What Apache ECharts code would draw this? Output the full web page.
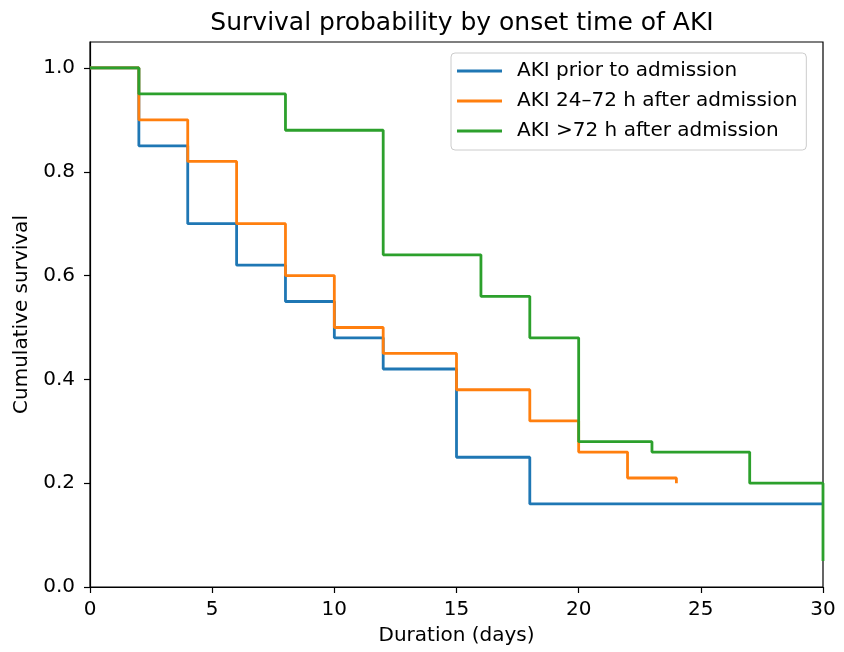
<!DOCTYPE html>
<html>
<head>
<meta charset="utf-8">
<script src="https://cdn.jsdelivr.net/npm/echarts@6/dist/echarts.min.js"></script>
<style>
html,body{margin:0;padding:0;background:#fff;}
#chart{width:844px;height:652px;}
</style>
</head>
<body>
<div id="chart"></div>
<script>
const titleText = 'Survival probability by onset time of AKI';
const seriesNames = ['AKI prior to admission', 'AKI 24\u201372 h after admission', 'AKI >72 h after admission'];
const seriesColors = ['#1f77b4', '#ff7f0e', '#2ca02c'];

// Kaplan-Meier step points: [day, survival]
const priorTimes = [0, 2, 4, 6, 8, 10, 12, 15, 18, 30];
const priorSurv  = [1.0, 0.85, 0.70, 0.62, 0.55, 0.48, 0.42, 0.25, 0.16, 0.16];

const midTimes = [0, 2, 4, 6, 8, 10, 12, 15, 18, 20, 22, 24];
const midSurv  = [1.0, 0.90, 0.82, 0.70, 0.60, 0.50, 0.45, 0.38, 0.32, 0.26, 0.21, 0.20];

const lateTimes = [0, 2, 8, 12, 16, 18, 20, 23, 27, 30, 30];
const lateSurv  = [1.0, 0.95, 0.88, 0.64, 0.56, 0.48, 0.28, 0.26, 0.20, 0.20, 0.05];

const xTicks = [0, 5, 10, 15, 20, 25, 30];
const yTicks = [0.0, 0.2, 0.4, 0.6, 0.8, 1.0];

function pairs(t, s) { return t.map((v, i) => [v, s[i]]); }
const allData = [pairs(priorTimes, priorSurv), pairs(midTimes, midSurv), pairs(lateTimes, lateSurv)];

const FONT = 'DejaVu Sans';
const FS = 20;
const chart = echarts.init(document.getElementById('chart'), null, {renderer: 'canvas'});
chart.setOption({
  animation: false,
  backgroundColor: '#ffffff',
  title: {
    text: titleText,
    left: 457, textAlign: 'center', top: 6,
    textStyle: {fontFamily: FONT, fontSize: 25, fontWeight: 'normal', color: '#000'}
  },
  grid: {left: 90, right: 21, top: 42, bottom: 65, show: true, borderColor: '#000', borderWidth: 1.2, backgroundColor: 'transparent'},
  legend: {
    orient: 'vertical', left: 451, top: 53,
    padding: [8, 9, 9, 6], itemGap: 10,
    itemWidth: 45, itemHeight: 3, icon: 'rect',
    borderColor: '#cccccc', borderWidth: 1, borderRadius: 4, backgroundColor: '#ffffff',
    textStyle: {fontFamily: FONT, fontSize: FS, color: '#000', lineHeight: 20, padding: [0, 0, 0, 10]},
    data: seriesNames
  },
  xAxis: {
    type: 'value', min: 0, max: 30, interval: 5,
    name: 'Duration (days)', nameLocation: 'middle', nameGap: 39,
    nameTextStyle: {fontFamily: FONT, fontSize: FS, color: '#000'},
    axisLine: {show: true, lineStyle: {color: '#000', width: 1.2}},
    axisTick: {show: true, length: 6, inside: false, lineStyle: {color: '#000', width: 1.2}, customValues: xTicks},
    axisLabel: {fontFamily: FONT, fontSize: FS, color: '#000', margin: 13, customValues: xTicks, formatter: v => String(v)},
    splitLine: {show: false}
  },
  yAxis: {
    type: 'value', min: 0, max: 1.05,
    name: 'Cumulative survival', nameLocation: 'middle', nameGap: 56, nameRotate: 90,
    nameTextStyle: {fontFamily: FONT, fontSize: FS, color: '#000'},
    axisLine: {show: true, lineStyle: {color: '#000', width: 1.2}},
    axisTick: {show: true, length: 6, inside: false, lineStyle: {color: '#000', width: 1.2}, customValues: yTicks},
    axisLabel: {fontFamily: FONT, fontSize: FS, color: '#000', margin: 15, customValues: yTicks, formatter: v => v.toFixed(1)},
    splitLine: {show: false}
  },
  series: seriesNames.map((n, i) => ({
    name: n, type: 'line', step: 'end', showSymbol: false, symbol: 'none',
    data: allData[i], clip: true,
    lineStyle: {color: seriesColors[i], width: 2.8},
    itemStyle: {color: seriesColors[i]},
    z: 2 + i
  }))
});
</script>
</body>
</html>
